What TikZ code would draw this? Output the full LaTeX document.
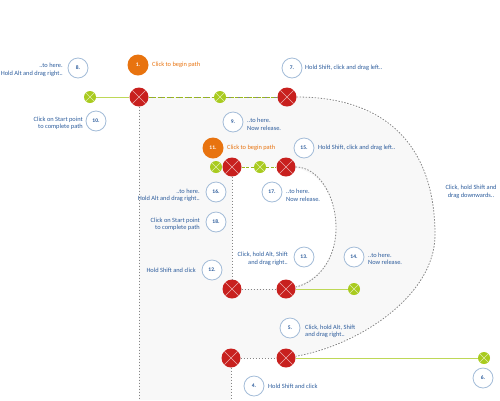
\documentclass[tikz,border=0pt]{standalone}
\usepackage{fontspec}
\setmainfont{Carlito}
\usetikzlibrary{backgrounds}
\definecolor{redc}{HTML}{C8201E}
\definecolor{greenc}{HTML}{A9CB1F}
\definecolor{orangec}{HTML}{E8730F}
\definecolor{bluet}{HTML}{2C5C9C}
\definecolor{bluec}{HTML}{A3BCD8}
\definecolor{fillc}{HTML}{F8F8F8}
\definecolor{grayd}{HTML}{858585}
\begin{document}
\begin{tikzpicture}[x=1pt,y=-1pt,
  xmark/.style={path picture={\draw[#1,line width=0.5pt]
     (path picture bounding box.north west)--(path picture bounding box.south east)
     (path picture bounding box.north east)--(path picture bounding box.south west);}},
  redn/.style={circle,fill=redc,minimum size=19pt,inner sep=0pt,xmark=redc!35!white},
  greenn/.style={circle,fill=greenc,minimum size=12pt,inner sep=0pt,xmark=greenc!35!white},
  orangen/.style={circle,fill=orangec,minimum size=21pt,inner sep=0pt,text=white,font=\fontsize{5.5}{6}\selectfont\bfseries},
  numn/.style={circle,draw=bluec,line width=0.8pt,fill=white,minimum size=20pt,inner sep=0pt,text=bluet,font=\fontsize{5.5}{6}\selectfont\bfseries},
  lbl/.style={text=bluet,font=\fontsize{6.4}{7.5}\selectfont,inner sep=0pt},
  olbl/.style={text=orangec,font=\fontsize{6.4}{7.5}\selectfont,inner sep=0pt,anchor=west},
  gdash/.style={draw=grayd,line width=0.8pt,dash pattern=on 1.5pt off 1.5pt},
  gline/.style={draw=greenc!75!white,line width=1pt},
  gdashg/.style={draw=greenc!90!black,line width=1pt,dash pattern=on 3pt off 1.5pt}
]
\useasboundingbox (0,0) rectangle (500,400);
% red nodes
\node[redn] (R1) at (139,97) {};
\node[redn] (R2) at (287,97) {};
\node[redn] (R3) at (232,167) {};
\node[redn] (R4) at (286,167) {};
\node[redn] (R5) at (232,289) {};
\node[redn] (R6) at (286,289) {};
\node[redn] (R7) at (231,358) {};
\node[redn] (R8) at (286,358) {};
% green nodes
\node[greenn] (G1) at (90,97) {};
\node[greenn] (G2) at (220,97) {};
\node[greenn] (G3) at (216,167) {};
\node[greenn] (G4) at (260,167) {};
\node[greenn] (G5) at (354,289) {};
\node[greenn] (G6) at (484,358) {};
\coordinate (B1) at (139,400);
\coordinate (B2) at (231,400);
% fill
\begin{pgfonlayer}{background}
\fill[fillc,even odd rule] (B1) -- (R1.center) -- (R2.center)
   .. controls (385,97) and (435,145) .. (435,235)
   .. controls (435,295) and (360,345) .. (R8.center) -- (R7.center) -- (B2) -- cycle
   (R3.center) -- (R4.center)
   .. controls (318,167) and (336,195) .. (336,228)
   .. controls (336,262) and (315,283) .. (R6.center) -- (R5.center) -- cycle;
\end{pgfonlayer}
% connectors
\draw[gline] (G1) -- (R1);
\draw[gdash] (R1) -- (G2);
\draw[gdashg] (R1) -- (G2);
\draw[gdash] (G2) -- (R2);
\draw[gdashg] (G2) -- (R2);
\draw[gdashg] (R3) -- (G4);
\draw[gdashg] (G4) -- (R4);
\draw[gline] (R6) -- (G5);
\draw[gline] (R8) -- (G6);
\draw[gdash] (R1) -- (B1);
\draw[gdash] (R7) -- (B2);
\draw[gdash] (R3) -- (R5);
\draw[gdash] (R5) -- (R6);
\draw[gdash] (R7) -- (R8);
\draw[gdash] (R2) .. controls (385,97) and (435,145) .. (435,235)
   .. controls (435,295) and (360,345) .. (R8);
\draw[gdash] (R4) .. controls (318,167) and (336,195) .. (336,228)
   .. controls (336,262) and (315,283) .. (R6);
% orange
\node[orangen] (O1) at (138,65) {1.};
\node[olbl] (T1) at (152,65) {Click to begin path};
\node[orangen] (O11) at (213,148) {11.};
\node[olbl] (T11) at (227,148) {Click to begin path};
% numbered circles and labels
\node[numn] (N8) at (78,68) {8.};
\node[lbl,align=right,anchor=east] (T8) at (63,70) {..to here.\\Hold Alt and drag right..};
\node[numn] (N10) at (96,121) {10.};
\node[lbl,align=right,anchor=east] (T10) at (83,123.5) {Click on Start point\\to complete path};
\node[numn] (N7) at (292,68) {7.};
\node[lbl,anchor=west] (T7) at (305,68) {Hold Shift, click and drag left..};
\node[numn] (N9) at (233,122) {9.};
\node[lbl,align=left,anchor=west] (T9) at (247,124.5) {..to here.\\Now release.};
\node[numn] (N15) at (304,148) {15.};
\node[lbl,anchor=west] (T15) at (318,148) {Hold Shift, click and drag left..};
\node[numn] (N16) at (216,192) {16.};
\node[lbl,align=right,anchor=east] (T16) at (200,195.5) {..to here.\\Hold Alt and drag right..};
\node[numn] (N17) at (272,192) {17.};
\node[lbl,align=left,anchor=west] (T17) at (286,195.5) {..to here.\\Now release.};
\node[numn] (N18) at (216,222) {18.};
\node[lbl,align=right,anchor=east] (T18) at (200,224.5) {Click on Start point\\to complete path};
\node[numn] (N12) at (212,270) {12.};
\node[lbl,anchor=east] (T12) at (196,270) {Hold Shift and click};
\node[numn] (N13) at (304,257) {13.};
\node[lbl,align=right,anchor=east] (T13) at (288,259) {Click, hold Alt, Shift\\and drag right..};
\node[numn] (N14) at (354,257) {14.};
\node[lbl,align=left,anchor=west] (T14) at (368,259) {..to here.\\Now release.};
\node[lbl,align=center] (TR) at (471,192) {Click, hold Shift and\\drag downwards..};
\node[numn] (N5) at (290,328) {5.};
\node[lbl,align=left,anchor=west] (T5) at (305,331.5) {Click, hold Alt, Shift\\and drag right..};
\node[numn] (N4) at (254,386) {4.};
\node[lbl,anchor=west] (T4) at (268,386) {Hold Shift and click};
\node[numn] (N6) at (483,378) {6.};
\end{tikzpicture}
\end{document}
